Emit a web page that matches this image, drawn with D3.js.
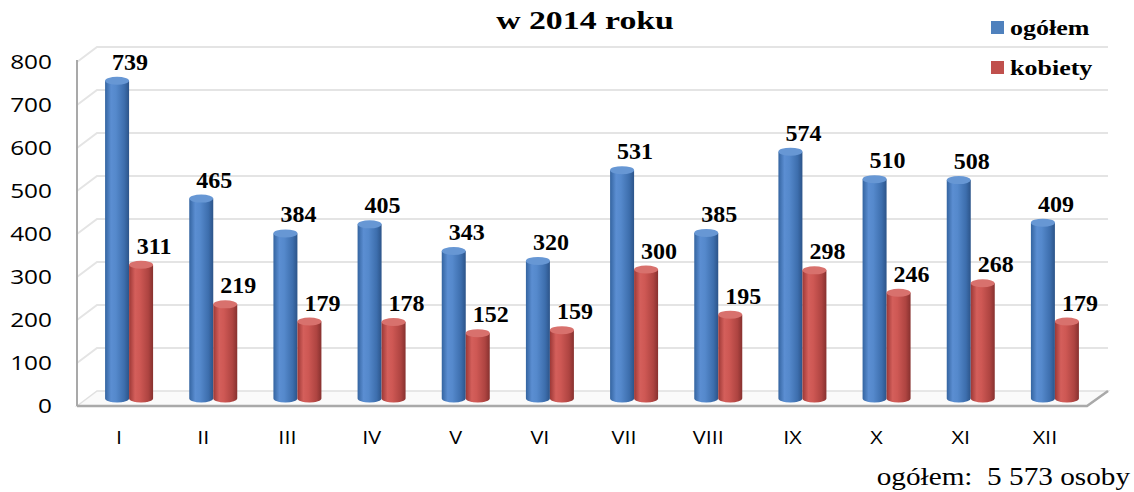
<!DOCTYPE html>
<html>
<head>
  <meta charset="UTF-8">
  <title>w 2014 roku</title>
  <style>
  body{
    margin: 0;
    background: #fff;
  }
  .tick{
    font-family: "Open Sans", sans-serif;
    fill: #000;
  }
  .serif{
    font-family: "Liberation Serif", "Times New Roman", serif;
    fill: #000;
  }
  </style>
</head>
<body>
  <script src="https://cdn.jsdelivr.net/npm/d3@7/dist/d3.min.js"></script>
  <script type="text/javascript">
  // dane
  var months = ['I', 'II', 'III', 'IV', 'V', 'VI', 'VII', 'VIII', 'IX', 'X', 'XI', 'XII'];
  var ogolem = [739, 465, 384, 405, 343, 320, 531, 385, 574, 510, 508, 409];
  var kobiety = [311, 219, 179, 178, 152, 159, 300, 195, 298, 246, 268, 179];
  var seriesNames = ['ogółem', 'kobiety'];
  var yTicks = [0, 100, 200, 300, 400, 500, 600, 700, 800];

  var width = 1134, height = 492;
  var depthX = 20, depthY = -15;   // głębokość 3D

  var svg = d3.select('body').append('svg')
    .attr('width', width)
    .attr('height', height);

  var x = d3.scaleBand().domain(months).range([77, 1087]);
  var xs = d3.scaleBand().domain(seriesNames).range([-24, 24]);
  var y = d3.scaleLinear().domain([0, 800]).range([406, 62]);

  // gradienty dla walców
  var defs = svg.append('defs');
  function grad(id, stops){
    var g = defs.append('linearGradient').attr('id', id)
      .attr('x1', '0%').attr('x2', '100%').attr('y1', '0%').attr('y2', '0%');
    stops.forEach(function(s){
      g.append('stop').attr('offset', s[0]).attr('stop-color', s[1]);
    });
  }
  grad('gBlue', [['0%', '#3464a0'], ['25%', '#5b8ed2'], ['45%', '#5589cc'], ['80%', '#3d6ead'], ['100%', '#2c5489']]);
  grad('gRed', [['0%', '#9c3836'], ['25%', '#d45f5b'], ['45%', '#ce5854'], ['80%', '#ae4441'], ['100%', '#87312f']]);
  var topColor = {'ogółem': '#6797d4', 'kobiety': '#d8716d'};
  var fillId = {'ogółem': 'url(#gBlue)', 'kobiety': 'url(#gRed)'};

  // siatka (ściana boczna + tylna)
  var grid = svg.append('g');
  yTicks.forEach(function(v){
    if (v === 0) return;
    var yy = y(v);
    grid.append('path')
      .attr('d', 'M77,' + yy + 'L' + (77 + depthX) + ',' + (yy + depthY) + 'L1108,' + (yy + depthY))
      .attr('fill', 'none')
      .attr('stroke', '#e4e4e4')
      .attr('stroke-width', 2);
  });

  // podłoga
  svg.append('path')
    .attr('d', 'M77,' + y(0) + 'L' + (77 + depthX) + ',' + (y(0) + depthY) + 'L1108,' + (y(0) + depthY) + 'L1087,' + y(0) + 'Z')
    .attr('fill', '#fafafa')
    .attr('stroke', '#e0e0e0')
    .attr('stroke-width', 1.5);
  svg.append('path')
    .attr('d', 'M77,' + y(0) + 'L1087,' + y(0) + 'L1108,' + (y(0) + depthY))
    .attr('fill', 'none')
    .attr('stroke', '#a9a9a9')
    .attr('stroke-width', 2.5);

  // oś pionowa
  svg.append('line')
    .attr('x1', 77).attr('x2', 77)
    .attr('y1', y(800) - 2).attr('y2', y(0))
    .attr('stroke', '#a9a9a9')
    .attr('stroke-width', 2);

  // walce
  var bw = xs.bandwidth(), ry = 4;
  var rows = [];
  months.forEach(function(m, i){
    rows.push({m: m, s: 'ogółem', v: ogolem[i]});
    rows.push({m: m, s: 'kobiety', v: kobiety[i]});
  });
  var base = y(0) + depthY / 2;
  var bars = svg.append('g').selectAll('g')
    .data(rows)
    .enter()
    .append('g')
    .attr('transform', function(d){
      return 'translate(' + (x(d.m) + x.bandwidth() / 2 + depthX / 2 + xs(d.s)) + ',0)';
    });
  bars.append('path')
    .attr('d', function(d){
      var top = base - (y(0) - y(d.v));
      return 'M0,' + top + 'L0,' + base +
        'A' + (bw / 2) + ',' + ry + ' 0 0 0 ' + bw + ',' + base +
        'L' + bw + ',' + top + 'Z';
    })
    .attr('fill', function(d){ return fillId[d.s]; });
  bars.append('ellipse')
    .attr('cx', bw / 2)
    .attr('cy', function(d){ return base - (y(0) - y(d.v)); })
    .attr('rx', bw / 2)
    .attr('ry', ry)
    .attr('fill', function(d){ return topColor[d.s]; });

  // etykiety wartości
  bars.append('text')
    .attr('class', 'serif')
    .attr('x', bw / 2 + 13)
    .attr('y', function(d){ return base - (y(0) - y(d.v)) - 11; })
    .attr('text-anchor', 'middle')
    .style('font-size', '24px')
    .style('font-weight', 'bold')
    .text(function(d){ return d.v; });

  // etykiety osi Y
  svg.append('g').selectAll('text')
    .data(yTicks)
    .enter()
    .append('text')
    .attr('class', 'tick')
    .attr('transform', function(d){ return 'translate(52,' + y(d) + ') scale(1.22,1)'; })
    .attr('dy', '0.36em')
    .attr('text-anchor', 'end')
    .style('font-size', '20px')
    .text(function(d){ return d; });

  // etykiety osi X
  svg.append('g').selectAll('text')
    .data(months)
    .enter()
    .append('text')
    .attr('class', 'tick')
    .attr('transform', function(d){ return 'translate(' + (x(d) + x.bandwidth() / 2) + ',438) scale(1.2,1)'; })
    .attr('dy', '0.36em')
    .attr('text-anchor', 'middle')
    .style('font-size', '18px')
    .text(function(d){ return d; });

  // tytuł
  svg.append('text')
    .attr('class', 'serif')
    .attr('transform', 'translate(585,29) scale(1.3,1)')
    .attr('text-anchor', 'middle')
    .style('font-size', '26px')
    .style('font-weight', 'bold')
    .text('w 2014 roku');

  // legenda
  var legColors = ['#4f81bd', '#c0504d'];
  var leg = svg.append('g').selectAll('g')
    .data(seriesNames)
    .enter()
    .append('g')
    .attr('transform', function(d, i){ return 'translate(991,' + (21 + i * 40) + ')'; });
  leg.append('rect')
    .attr('width', 13).attr('height', 13)
    .attr('fill', function(d, i){ return legColors[i]; });
  leg.append('text')
    .attr('class', 'serif')
    .attr('transform', 'translate(19,14) scale(1.3,1)')
    .style('font-size', '20px')
    .style('font-weight', 'bold')
    .text(function(d){ return d; });

  // podpis
  svg.append('text')
    .attr('class', 'serif')
    .attr('transform', 'translate(1130,485) scale(1.17,1)')
    .attr('text-anchor', 'end')
    .style('font-size', '25px')
    .attr('xml:space', 'preserve')
    .text('ogółem:  5 573 osoby');
  </script>
</body>
</html>
